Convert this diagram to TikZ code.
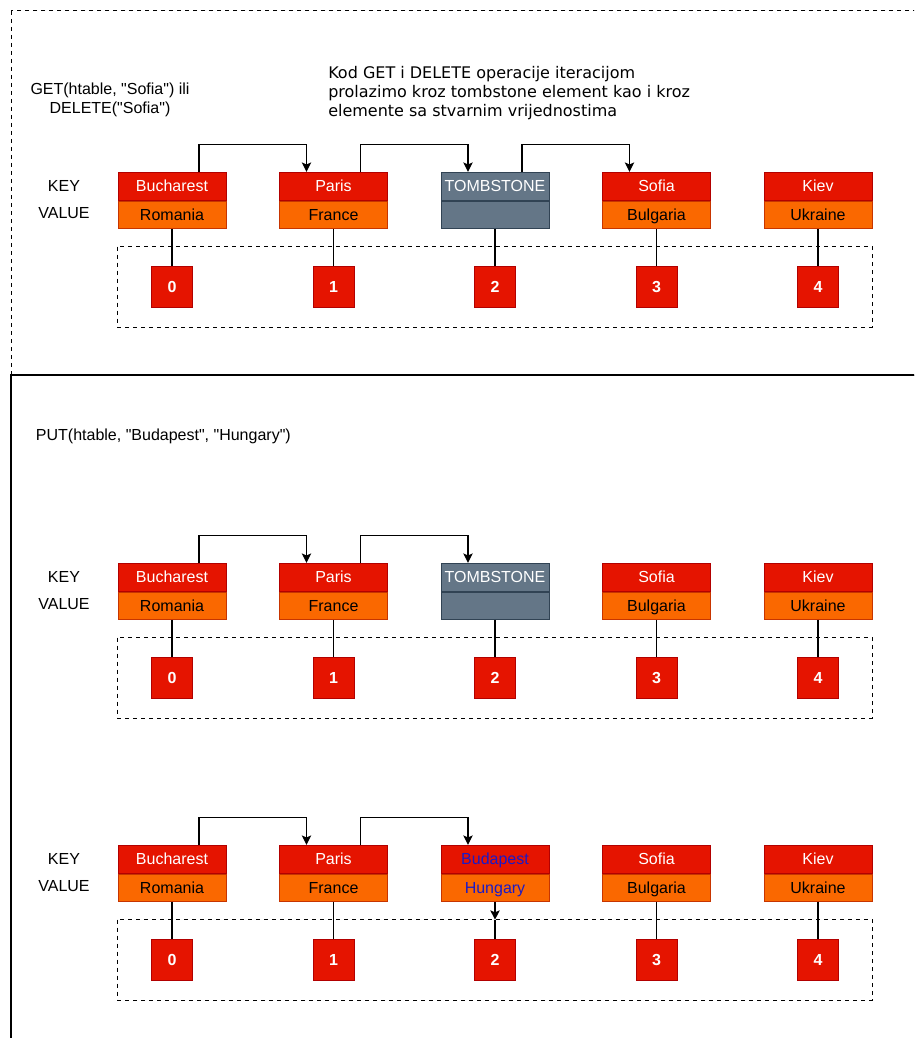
\documentclass[tikz,border=0pt]{standalone}
\usepackage{fontspec}
\setmainfont{Liberation Sans}
\newfontfamily\dejavu{DejaVu Sans}
\usetikzlibrary{arrows.meta, positioning}

\definecolor{keyred}{HTML}{E51400}
\definecolor{keyline}{HTML}{B20000}
\definecolor{valorange}{HTML}{FA6800}
\definecolor{valline}{HTML}{C73500}
\definecolor{tombgray}{HTML}{647687}
\definecolor{tombline}{HTML}{314354}
\definecolor{newblue}{HTML}{1A1AC8}

% ravni navodnik (bez tex-text zamjene)
\newcommand\dq{\XeTeXglyph\XeTeXcharglyph"22\relax}

\tikzset{
	cell/.style={draw, minimum width=81pt, inner sep=0pt, line width=0.75pt, text height=8.6pt, text depth=0.4pt, font=\fontsize{12}{14}\selectfont},
	keycell/.style={cell, draw=keyline, fill=keyred, text=white, minimum height=21pt},
	valcell/.style={cell, draw=valline, fill=valorange, text=black, minimum height=20.25pt},
	tombkey/.style={cell, draw=tombline, fill=tombgray, text=white, minimum height=21pt},
	tombval/.style={cell, draw=tombline, fill=tombgray, minimum height=20.25pt},
	slot/.style={draw=keyline, fill=keyred, text=white, minimum size=30.75pt, inner sep=0pt, line width=0.75pt, font=\fontsize{12}{14}\selectfont\bfseries},
	link/.style={line width=0.9pt, -{Stealth[length=7pt, width=7pt, inset=1.5pt]}},
	stem/.style={line width=0.9pt},
	rowbox/.style={dash pattern=on 3pt off 3pt, line width=0.75pt},
	note/.style={inner sep=0pt, font=\fontsize{12}{14.25}\selectfont}
}

\begin{document}
\begin{tikzpicture}[x=0.75pt, y=-0.75pt]
	
	\useasboundingbox (0,0) rectangle (914,1038);
	\clip (0,0) rectangle (914,1038);
	
	% Okviri
	\draw[rowbox] (11,11) rectangle (940,375);
	\draw[line width=0.9pt] (11,1060) -- (11,375) -- (940,375);
	
	% Tekstovi
	\node[note, align=center] (getop) at (110,100) {GET(htable, \dq Sofia\dq) ili\\DELETE(\dq Sofia\dq)};
	\node[note, anchor=west, align=left, font=\dejavu\fontsize{12}{14.25}\selectfont] (kodnote) at (328,93)
		{Kod GET i DELETE operacije iteracijom\\prolazimo kroz tombstone element kao i kroz\\elemente sa stvarnim vrijednostima};
	\node[note, anchor=west] (putop) at (35.7,436) {PUT(htable, \dq Budapest\dq, \dq Hungary\dq)};
	
	% ================= RED A: GET / DELETE =================
	\begin{scope}[shift={(0,186.3)}]
		\node[note] (keyA) at (64,0) {KEY};
		\node[note] (valueA) at (64,27) {VALUE};
		\coordinate (boxA) at (117.7,60.4);
		\draw[rowbox] (boxA) rectangle (872,141);
		\foreach \i/\k/\v in {0/Bucharest/Romania, 1/Paris/France, 3/Sofia/Bulgaria, 4/Kiev/Ukraine} {
			\node[keycell] (kA\i) at (172+161.5*\i,0) {\k};
			\node[valcell, below=0pt of kA\i] (vA\i) {\v};
		}
		\node[tombkey] (kA2) at (495,0) {TOMBSTONE};
		\node[tombval, below=0pt of kA2] (vA2) {};
		\foreach \i in {0,...,4} {
			\node[slot] (iA\i) at (172+161.5*\i,100.7) {\i};
			\draw[stem] (vA\i) -- (iA\i);
		}
		\draw[link] ([xshift=20.25pt]kA0.north) -- ++(0,-27) -| ([xshift=-20.25pt]kA1.north);
		\draw[link] ([xshift=20.25pt]kA1.north) -- ++(0,-27) -| ([xshift=-20.25pt]kA2.north);
		\draw[link] ([xshift=20.25pt]kA2.north) -- ++(0,-27) -| ([xshift=-20.25pt]kA3.north);
	\end{scope}
	
	% ================= RED B: PUT, prije =================
	\begin{scope}[shift={(0,577.3)}]
		\node[note] (keyB) at (64,0) {KEY};
		\node[note] (valueB) at (64,27) {VALUE};
		\coordinate (boxB) at (117.7,60.4);
		\draw[rowbox] (boxB) rectangle (872,141);
		\foreach \i/\k/\v in {0/Bucharest/Romania, 1/Paris/France, 3/Sofia/Bulgaria, 4/Kiev/Ukraine} {
			\node[keycell] (kB\i) at (172+161.5*\i,0) {\k};
			\node[valcell, below=0pt of kB\i] (vB\i) {\v};
		}
		\node[tombkey] (kB2) at (495,0) {TOMBSTONE};
		\node[tombval, below=0pt of kB2] (vB2) {};
		\foreach \i in {0,...,4} {
			\node[slot] (iB\i) at (172+161.5*\i,100.7) {\i};
			\draw[stem] (vB\i) -- (iB\i);
		}
		\draw[link] ([xshift=20.25pt]kB0.north) -- ++(0,-27) -| ([xshift=-20.25pt]kB1.north);
		\draw[link] ([xshift=20.25pt]kB1.north) -- ++(0,-27) -| ([xshift=-20.25pt]kB2.north);
	\end{scope}
	
	% ================= RED C: PUT, poslije =================
	\begin{scope}[shift={(0,859.3)}]
		\node[note] (keyC) at (64,0) {KEY};
		\node[note] (valueC) at (64,27) {VALUE};
		\coordinate (boxC) at (117.7,60.4);
		\draw[rowbox] (boxC) rectangle (872,141);
		\foreach \i/\k/\v in {0/Bucharest/Romania, 1/Paris/France, 3/Sofia/Bulgaria, 4/Kiev/Ukraine} {
			\node[keycell] (kC\i) at (172+161.5*\i,0) {\k};
			\node[valcell, below=0pt of kC\i] (vC\i) {\v};
		}
		\node[keycell, text=newblue] (kC2) at (495,0) {Budapest};
		\node[valcell, text=newblue, below=0pt of kC2] (vC2) {Hungary};
		\foreach \i in {0,...,4} {
			\node[slot] (iC\i) at (172+161.5*\i,100.7) {\i};
		}
		\foreach \i in {0,1,3,4} {
			\draw[stem] (vC\i) -- (iC\i);
		}
		\coordinate (tipC) at (vC2.south |- boxC);
		\draw[link] (vC2) -- (tipC);
		\draw[stem] (tipC) -- (iC2);
		\draw[link] ([xshift=20.25pt]kC0.north) -- ++(0,-27) -| ([xshift=-20.25pt]kC1.north);
		\draw[link] ([xshift=20.25pt]kC1.north) -- ++(0,-27) -| ([xshift=-20.25pt]kC2.north);
	\end{scope}
	
\end{tikzpicture}
\end{document}
